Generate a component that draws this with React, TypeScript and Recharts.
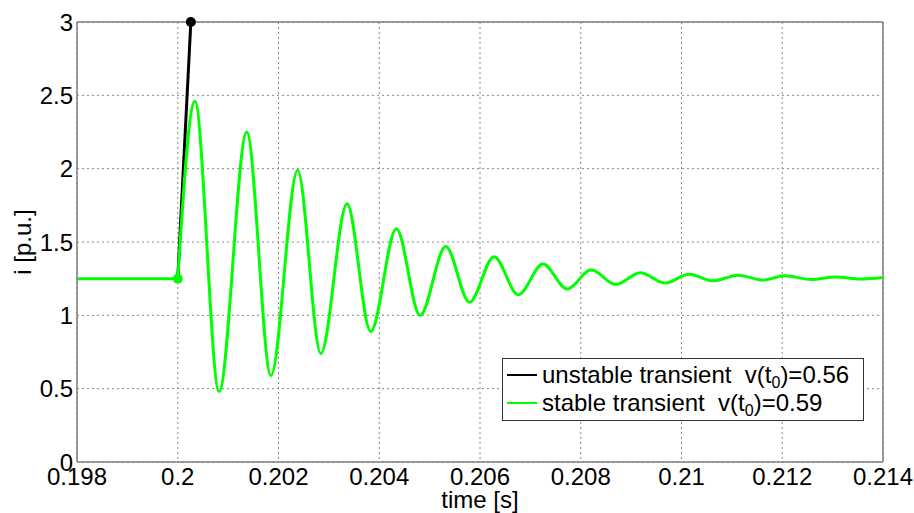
import { ComposedChart, Line, Scatter, XAxis, YAxis, CartesianGrid, ReferenceLine, Legend, Label } from 'recharts';

const timeTicks = [0.198, 0.2, 0.202, 0.204, 0.206, 0.208, 0.21, 0.212, 0.214];
const currentTicks = [0, 0.5, 1, 1.5, 2, 2.5, 3];

// steady state before the disturbance
const preTime = [0.198, 0.2];
const preCurrent = [1.25, 1.25];

// unstable case runs off the top of the plot
const unstableTime = [0.2, 0.20026];
const unstableCurrent = [1.25, 3];

// stable case: start, then peaks / troughs
const stableTime = [
  0.2, 0.20034, 0.20082, 0.20137, 0.20185, 0.20238, 0.20284, 0.20336, 0.20383, 0.20434,
  0.20481, 0.20532, 0.20579, 0.20628, 0.20676, 0.20725, 0.20773, 0.20821, 0.20869, 0.20918,
  0.20968, 0.21015, 0.21063, 0.21112, 0.21162, 0.21205, 0.21258, 0.21305, 0.21357, 0.214,
];
const stableCurrent = [
  1.25, 2.46, 0.48, 2.25, 0.59, 1.99, 0.74, 1.76, 0.89, 1.59,
  1.0, 1.47, 1.09, 1.4, 1.14, 1.35, 1.18, 1.31, 1.21, 1.29,
  1.22, 1.28, 1.235, 1.274, 1.24, 1.27, 1.244, 1.262, 1.248, 1.258,
];

const legendItems = [
  { label: 'unstable transient', v0: '0.56', color: '#000000' },
  { label: 'stable transient', v0: '0.59', color: '#00ff00' },
];

const toPoints = (t: number[], i: number[]) => t.map((x, k) => ({ t: x, i: i[k] }));

const FONT = '"Liberation Sans", Arial, sans-serif';
const GREEN = '#00ff00';
const AXIS = '#7f7f7f';

function LegendBox() {
  return (
    <div
      style={{
        width: 356,
        height: 59,
        boxSizing: 'content-box',
        border: '1px solid #333',
        background: '#fff',
        padding: '2px 0 0 4px',
        fontFamily: FONT,
        fontSize: 24,
        color: '#000',
      }}
    >
      {legendItems.map((item) => (
        <div key={item.label} style={{ display: 'flex', alignItems: 'center', height: 28, whiteSpace: 'pre' }}>
          <span style={{ display: 'inline-block', width: 30, height: 2, background: item.color, marginRight: 5 }} />
          <span style={{ lineHeight: '28px' }}>
            {item.label}  v(t<sub style={{ fontSize: 16, lineHeight: 0, verticalAlign: '-5px' }}>0</sub>)={item.v0}
          </span>
        </div>
      ))}
    </div>
  );
}

export default function App() {
  const dotShape = (color: string) => (p: any) => <circle cx={p.cx} cy={p.cy} r={5} fill={color} />;

  return (
    <div style={{ position: 'absolute', left: 0, top: 0, width: 914, height: 513, background: '#fff' }}>
      <ComposedChart
        width={914}
        height={513}
        margin={{ top: 22, right: 31, bottom: 0, left: 0 }}
        style={{ fontFamily: FONT }}
      >
        <CartesianGrid stroke="#888" strokeDasharray="2 3" />
        <XAxis
          type="number"
          dataKey="t"
          domain={[0.198, 0.214]}
          ticks={timeTicks}
          height={51}
          tickSize={0}
          tickMargin={6}
          axisLine={{ stroke: AXIS, strokeWidth: 1.5 }}
          tick={{ fill: '#000', fontSize: 24 }}
        >
          <Label value="time [s]" position="insideBottom" offset={5} fill="#000" fontSize={24} />
        </XAxis>
        <YAxis
          type="number"
          dataKey="i"
          domain={[0, 3]}
          ticks={currentTicks}
          width={77}
          tickSize={0}
          tickMargin={4}
          axisLine={{ stroke: AXIS, strokeWidth: 1.5 }}
          tick={{ fill: '#000', fontSize: 24 }}
        >
          <Label
            content={({ viewBox }: any) => (
              <text
                x={31}
                y={viewBox.y + viewBox.height / 2}
                transform={`rotate(-90, 31, ${viewBox.y + viewBox.height / 2})`}
                textAnchor="middle"
                fill="#000"
                fontSize={24}
              >
                i [p.u.]
              </text>
            )}
          />
        </YAxis>
        <ReferenceLine y={3} stroke={AXIS} strokeWidth={1.5} />
        <ReferenceLine x={0.214} stroke={AXIS} strokeWidth={1.5} />
        <Legend
          layout="vertical"
          align="center"
          verticalAlign="middle"
          wrapperStyle={{ left: 502, top: 358, width: 'auto' }}
          content={() => <LegendBox />}
        />
        <Line
          data={toPoints(unstableTime, unstableCurrent)}
          dataKey="i"
          type="linear"
          stroke="#000"
          strokeWidth={3}
          dot={false}
          isAnimationActive={false}
        />
        <Line
          data={toPoints(preTime, preCurrent)}
          dataKey="i"
          type="linear"
          stroke={GREEN}
          strokeWidth={3}
          dot={false}
          isAnimationActive={false}
        />
        <Line
          data={toPoints(stableTime, stableCurrent)}
          dataKey="i"
          type="monotone"
          stroke={GREEN}
          strokeWidth={3}
          dot={false}
          isAnimationActive={false}
        />
        <Scatter
          data={toPoints(preTime.slice(-1), preCurrent.slice(-1))}
          dataKey="i"
          shape={dotShape(GREEN)}
          isAnimationActive={false}
        />
        <Scatter
          data={toPoints(unstableTime.slice(-1), unstableCurrent.slice(-1))}
          dataKey="i"
          shape={dotShape('#000')}
          isAnimationActive={false}
        />
      </ComposedChart>
    </div>
  );
}
